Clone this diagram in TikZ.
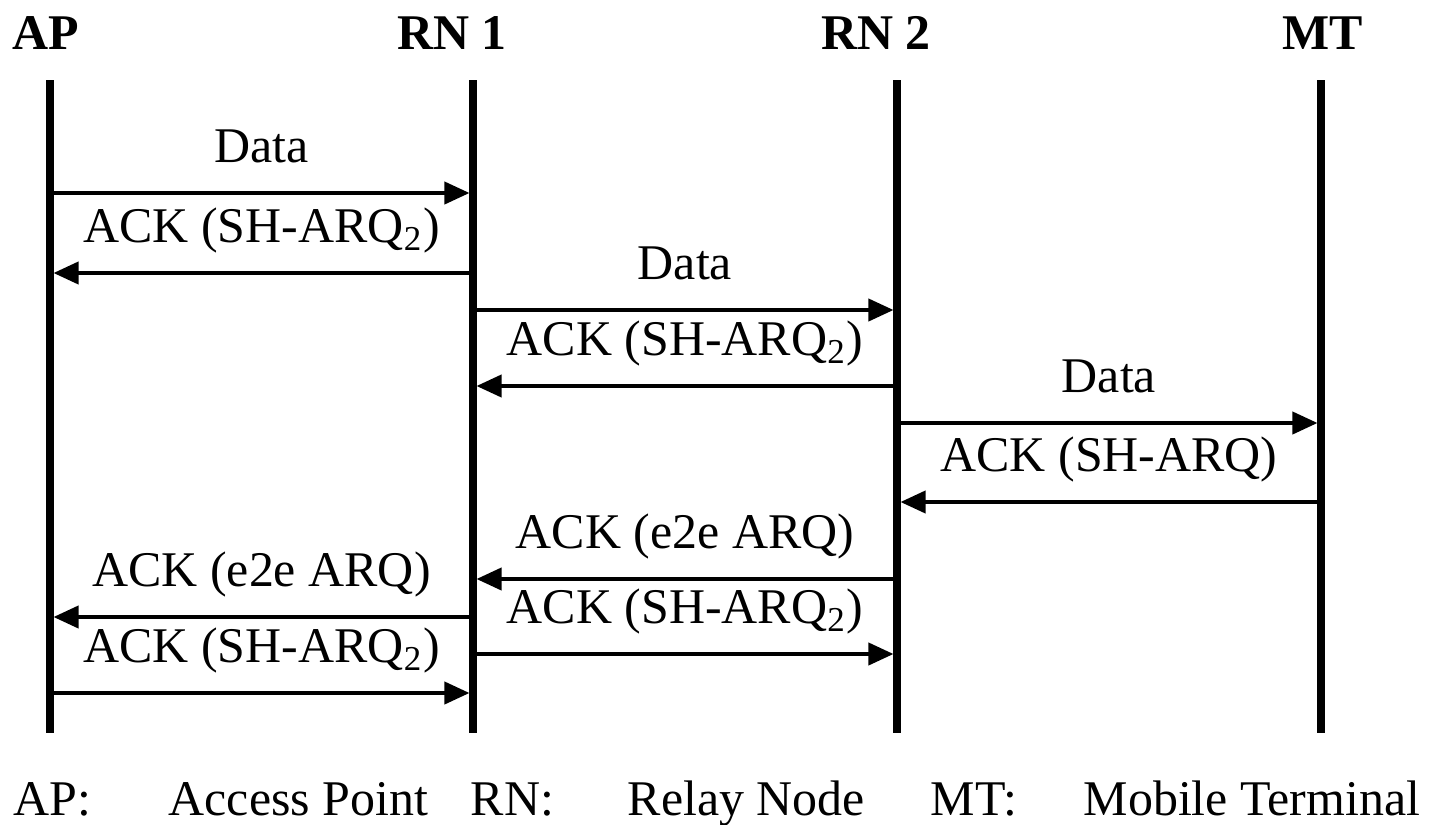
\documentclass[tikz,border=0pt]{standalone}
\usepackage{fontspec}
\setmainfont{Liberation Serif}
\usetikzlibrary{arrows.meta,positioning}

\begin{document}
\begin{tikzpicture}[
  x=0.01cm,y=-0.01cm,
  font=\fontsize{14.2}{17}\selectfont,
  head/.style={font=\fontsize{14.2}{17}\selectfont\bfseries,anchor=base,inner sep=0pt},
  lifeline/.style={line width=2pt},
  msg/.style={-{Triangle[length=0.25cm,width=0.22cm]},line width=1.1pt,
    shorten <=1pt,shorten >=1pt},
  lbl/.style={anchor=base,inner sep=0pt,yshift=0.3cm},
  legend/.style={anchor=base west,inner sep=0pt}
]
\useasboundingbox (0,0) rectangle (1436,824);

% entities
\node[head] (apname) at (46,50) {AP};
\node[head] (rn1name) at (452,50) {RN 1};
\node[head] (rn2name) at (876,50) {RN 2};
\node[head] (mtname) at (1323,50) {MT};

\coordinate (AP) at (50,80);
\coordinate (RN1) at (473,80);
\coordinate (RN2) at (897,80);
\coordinate (MT) at (1321,80);

\foreach \e in {AP,RN1,RN2,MT}
  \draw[lifeline] (\e) -- (\e |- 0,733);

% hop by hop
\draw[msg] (AP |- 0,193) -- (RN1 |- 0,193) node[lbl,midway] {Data};
\draw[msg] (RN1 |- 0,273) -- (AP |- 0,273) node[lbl,midway] {ACK (SH-ARQ\textsubscript{2})};
\draw[msg] (RN1 |- 0,310) -- (RN2 |- 0,310) node[lbl,midway] {Data};
\draw[msg] (RN2 |- 0,386) -- (RN1 |- 0,386) node[lbl,midway] {ACK (SH-ARQ\textsubscript{2})};
\draw[msg] (RN2 |- 0,423) -- (MT |- 0,423) node[lbl,midway] {Data};
\draw[msg] (MT |- 0,502) -- (RN2 |- 0,502) node[lbl,midway] {ACK (SH-ARQ)};

% end to end
\draw[msg] (RN2 |- 0,579) -- (RN1 |- 0,579) node[lbl,midway] {ACK (e2e ARQ)};
\draw[msg] (RN1 |- 0,617) -- (AP |- 0,617) node[lbl,midway] {ACK (e2e ARQ)};
\draw[msg] (RN1 |- 0,654) -- (RN2 |- 0,654) node[lbl,midway] {ACK (SH-ARQ\textsubscript{2})};
\draw[msg] (AP |- 0,693) -- (RN1 |- 0,693) node[lbl,midway] {ACK (SH-ARQ\textsubscript{2})};

% legend
\node[legend] (kap) at (13,815) {AP:};
\node[legend] (vap) at (168,815) {Access Point};
\node[legend] (krn) at (470,815) {RN:};
\node[legend] (vrn) at (627,815) {Relay Node};
\node[legend] (kmt) at (930,815) {MT:};
\node[legend] (vmt) at (1083,815) {Mobile Terminal};
\end{tikzpicture}
\end{document}
